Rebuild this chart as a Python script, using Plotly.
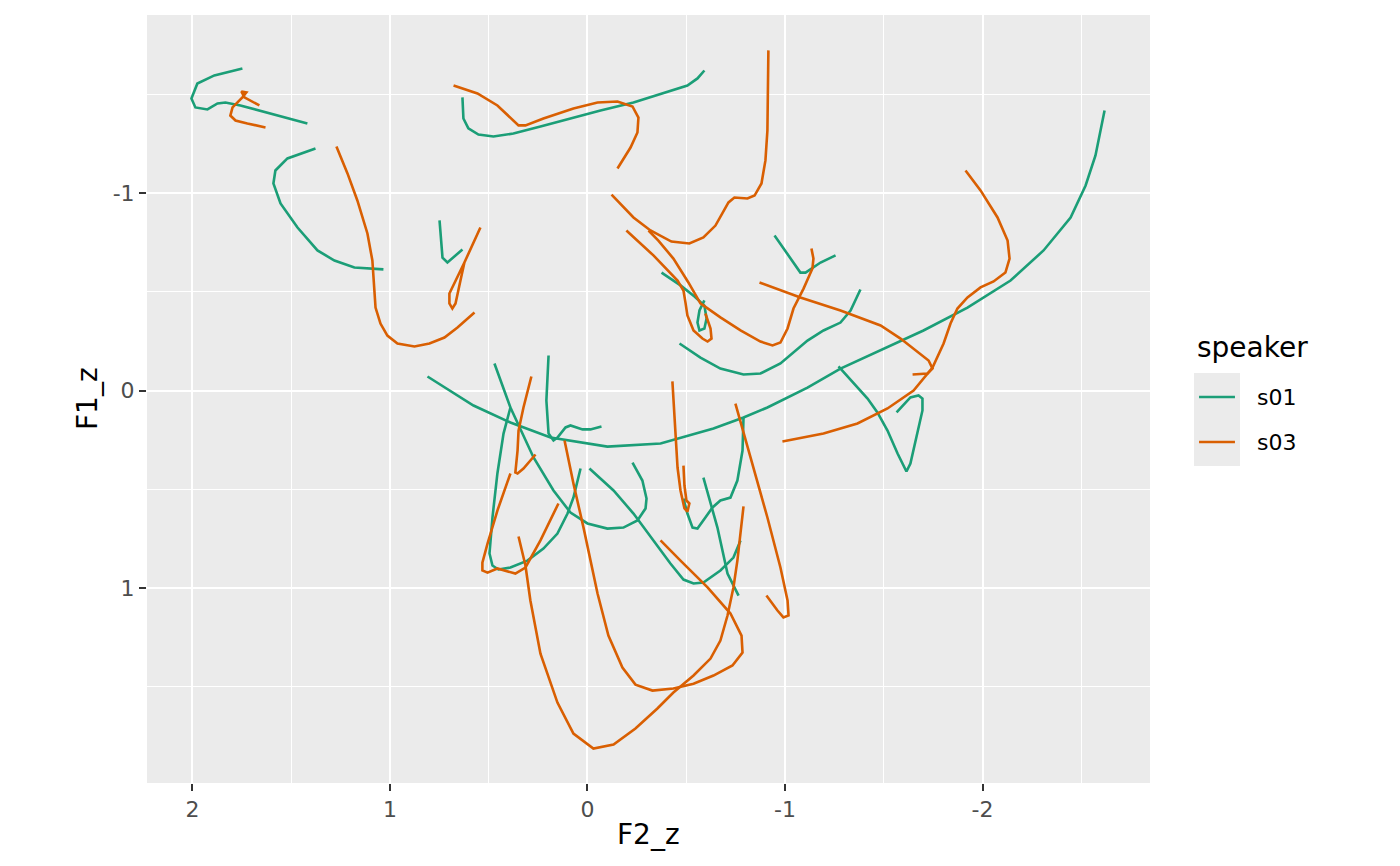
import plotly.graph_objects as go

# ---- data: F2_z / F1_z trajectories per speaker ----
speakers = ["s01", "s03"]
colors = {"s01": "#1B9E77", "s03": "#D95F02"}

s01_f2 = [
    [1.747, 1.889, 1.975, 2.005, 1.985, 1.924, 1.873, 1.833, 1.757, 1.418],
    [1.377, 1.519, 1.580, 1.590, 1.554, 1.468, 1.367, 1.281, 1.180, 1.033],
    [0.749, 0.739, 0.734, 0.709, 0.633],
    [0.633, 0.628, 0.603, 0.552, 0.476, 0.375, 0.238, -0.066, -0.233, -0.435, -0.506, -0.557, -0.592],
    [-0.947, -1.043, -1.078, -1.104, -1.180, -1.256],
    [-0.466, -0.572, -0.673, -0.790, -0.876, -0.977, -1.114, -1.195, -1.281, -1.332, -1.382],
    [0.810, 0.577, 0.390, 0.187, -0.101, -0.370, -0.638, -0.790, -0.911, -1.114, -1.281, -1.484,
     -1.701, -1.924, -2.142, -2.309, -2.446, -2.522, -2.572, -2.618],
    [-1.271, -1.347, -1.418, -1.468, -1.519, -1.570, -1.615, -1.635, -1.671, -1.696, -1.696, -1.676, -1.635, -1.565],
    [-0.375, -0.471, -0.542, -0.592, -0.603, -0.592, -0.567, -0.557, -0.567, -0.592],
    [0.197, 0.208, 0.197, 0.172, 0.152, 0.111, 0.086, 0.025, -0.015, -0.071],
    [0.471, 0.390, 0.273, 0.172, 0.086, 0.0, -0.101, -0.182, -0.253, -0.294, -0.299, -0.278, -0.228],
    [0.035, 0.071, 0.101, 0.152, 0.223, 0.304, 0.390, 0.451, 0.481, 0.496, 0.481, 0.456, 0.425, 0.390],
    [-0.010, -0.132, -0.233, -0.334, -0.420, -0.486, -0.537, -0.587, -0.673, -0.739, -0.775],
    [-0.587, -0.658, -0.709, -0.765],
    [-0.790, -0.785, -0.759, -0.724, -0.673, -0.633, -0.597, -0.557, -0.532, -0.506, -0.486],
]
s01_f1 = [
    [-1.630, -1.595, -1.554, -1.478, -1.433, -1.423, -1.453, -1.458, -1.443, -1.352],
    [-1.225, -1.175, -1.114, -1.048, -0.947, -0.825, -0.709, -0.658, -0.623, -0.613],
    [-0.861, -0.734, -0.673, -0.648, -0.714],
    [-1.484, -1.377, -1.327, -1.296, -1.286, -1.301, -1.337, -1.418, -1.458, -1.519, -1.544, -1.580, -1.620],
    [-0.785, -0.643, -0.597, -0.597, -0.648, -0.684],
    [-0.238, -0.167, -0.111, -0.081, -0.086, -0.137, -0.253, -0.304, -0.344, -0.405, -0.511],
    [-0.071, 0.076, 0.162, 0.238, 0.284, 0.268, 0.192, 0.137, 0.086, -0.015, -0.111, -0.203,
     -0.304, -0.420, -0.557, -0.709, -0.876, -1.038, -1.190, -1.418],
    [-0.122, -0.035, 0.041, 0.111, 0.203, 0.319, 0.410, 0.370, 0.218, 0.101, 0.041, 0.025, 0.035, 0.111],
    [-0.597, -0.532, -0.476, -0.430, -0.365, -0.314, -0.304, -0.344, -0.405, -0.456],
    [-0.177, 0.051, 0.218, 0.253, 0.238, 0.187, 0.177, 0.197, 0.197, 0.182],
    [-0.137, 0.086, 0.339, 0.506, 0.618, 0.673, 0.699, 0.694, 0.658, 0.597, 0.547, 0.456, 0.365],
    [0.395, 0.542, 0.623, 0.724, 0.800, 0.861, 0.896, 0.906, 0.886, 0.825, 0.643, 0.420, 0.218, 0.086],
    [0.395, 0.506, 0.623, 0.759, 0.876, 0.957, 0.977, 0.972, 0.911, 0.846, 0.759],
    [0.441, 0.694, 0.927, 1.038],
    [0.137, 0.304, 0.456, 0.542, 0.557, 0.592, 0.643, 0.699, 0.694, 0.623, 0.547],
]

s03_f2 = [
    [1.661, 1.737, 1.752, 1.727, 1.747, 1.797, 1.808, 1.782, 1.722, 1.630],
    [1.271, 1.215, 1.165, 1.114, 1.089, 1.078, 1.073, 1.048, 1.013, 0.962, 0.876, 0.800, 0.724, 0.658, 0.572],
    [0.542, 0.582, 0.623, 0.699, 0.699, 0.684, 0.668, 0.643, 0.623],
    [0.678, 0.557, 0.456, 0.400, 0.349, 0.314, 0.223, 0.071, -0.051, -0.152, -0.228, -0.258, -0.253, -0.218, -0.152],
    [-0.122, -0.233, -0.319, -0.425, -0.516, -0.587, -0.648, -0.714, -0.744, -0.810, -0.846, -0.881, -0.901, -0.911, -0.916],
    [-0.197, -0.334, -0.456, -0.486, -0.496, -0.506, -0.537, -0.582, -0.608, -0.628, -0.623, -0.597],
    [-0.309, -0.359, -0.435, -0.511, -0.572, -0.673, -0.775, -0.876, -0.937, -0.977, -1.013, -1.043,
     -1.094, -1.139, -1.144, -1.134],
    [-0.871, -1.078, -1.281, -1.484, -1.585, -1.686, -1.727, -1.747, -1.722, -1.646],
    [-1.914, -1.990, -2.076, -2.127, -2.137, -2.116, -2.056, -1.990, -1.924, -1.873, -1.838, -1.803,
     -1.747, -1.651, -1.519, -1.367, -1.195, -0.987],
    [-0.749, -0.825, -0.911, -0.977, -1.013, -1.018, -0.992, -0.962, -0.906],
    [-0.430, -0.441, -0.456, -0.471, -0.491, -0.506, -0.516, -0.501, -0.491, -0.486],
    [0.284, 0.324, 0.349, 0.354, 0.365, 0.354, 0.324, 0.263],
    [0.390, 0.456, 0.506, 0.532, 0.532, 0.506, 0.456, 0.415, 0.365, 0.314, 0.238, 0.147],
    [0.349, 0.314, 0.289, 0.238, 0.152, 0.071, -0.030, -0.132, -0.243, -0.354, -0.435, -0.537,
     -0.623, -0.673, -0.709, -0.739, -0.759, -0.790],
    [0.116, 0.071, 0.020, -0.015, -0.051, -0.106, -0.177, -0.243, -0.329, -0.435, -0.537, -0.638,
     -0.734, -0.785, -0.780, -0.724, -0.608, -0.471, -0.370],
]
s03_f1 = [
    [-1.443, -1.484, -1.514, -1.509, -1.484, -1.433, -1.392, -1.367, -1.352, -1.332],
    [-1.235, -1.099, -0.962, -0.795, -0.658, -0.522, -0.420, -0.339, -0.278, -0.238, -0.223, -0.238, -0.268, -0.319, -0.395],
    [-0.825, -0.734, -0.648, -0.491, -0.441, -0.415, -0.441, -0.557, -0.648],
    [-1.544, -1.504, -1.443, -1.392, -1.342, -1.342, -1.377, -1.428, -1.458, -1.463, -1.438, -1.382, -1.306, -1.230, -1.124],
    [-0.992, -0.876, -0.810, -0.754, -0.744, -0.775, -0.835, -0.952, -0.977, -0.972, -0.987, -1.048, -1.165, -1.316, -1.722],
    [-0.810, -0.684, -0.557, -0.506, -0.446, -0.380, -0.304, -0.263, -0.248, -0.263, -0.314, -0.390],
    [-0.810, -0.759, -0.668, -0.547, -0.441, -0.370, -0.304, -0.248, -0.228, -0.243, -0.314, -0.415,
     -0.516, -0.618, -0.668, -0.719],
    [-0.547, -0.471, -0.405, -0.329, -0.263, -0.187, -0.152, -0.111, -0.086, -0.081],
    [-1.114, -1.013, -0.876, -0.759, -0.668, -0.597, -0.552, -0.522, -0.471, -0.415, -0.339, -0.238,
     -0.116, 0.0, 0.091, 0.167, 0.218, 0.258],
    [0.066, 0.339, 0.643, 0.896, 1.063, 1.139, 1.149, 1.114, 1.038],
    [-0.046, 0.167, 0.390, 0.506, 0.597, 0.613, 0.572, 0.557, 0.481, 0.380],
    [-0.071, 0.086, 0.203, 0.304, 0.415, 0.420, 0.395, 0.324],
    [0.420, 0.608, 0.775, 0.871, 0.911, 0.922, 0.901, 0.911, 0.927, 0.896, 0.759, 0.572],
    [0.739, 0.886, 1.063, 1.332, 1.580, 1.737, 1.813, 1.792, 1.711, 1.610, 1.529, 1.443,
     1.357, 1.266, 1.139, 0.997, 0.861, 0.587],
    [0.253, 0.471, 0.694, 0.861, 1.028, 1.241, 1.403, 1.489, 1.519, 1.509, 1.484, 1.443,
     1.392, 1.327, 1.241, 1.129, 0.997, 0.861, 0.759],
]

x_ticks = [2, 1, 0, -1, -2]
x_ticklabels = ["2", "1", "0", "-1", "-2"]
x_minor = [1.5, 0.5, -0.5, -1.5, -2.5]
y_ticks = [-1, 0, 1]
y_ticklabels = ["-1", "0", "1"]
y_minor = [-1.5, -0.5, 0.5, 1.5]

FONT = "DejaVu Sans"

def joined(trajs):
    out = []
    for t in trajs:
        out.extend(t)
        out.append(None)
    return out

fig = go.Figure()
series = {"s01": (s01_f2, s01_f1), "s03": (s03_f2, s03_f1)}
for sp in speakers:
    f2, f1 = series[sp]
    fig.add_trace(go.Scatter(
        x=joined(f2), y=joined(f1), mode="lines", name=sp,
        line=dict(color=colors[sp], width=2.6), connectgaps=False,
        showlegend=False, hoverinfo="skip",
    ))

axis_common = dict(
    showgrid=True, gridcolor="white", gridwidth=2.2, zeroline=False, showline=False,
    ticks="outside", ticklen=7, tickwidth=2.2, tickcolor="#333333",
    tickfont=dict(family=FONT, size=22, color="#4D4D4D"),
)

fig.update_layout(
    width=1400, height=866,
    margin=dict(l=147, r=250, t=15, b=83),
    paper_bgcolor="white", plot_bgcolor="#EBEBEB",
    font=dict(family=FONT),
    xaxis=dict(range=[2.230, -2.848], tickvals=x_ticks, ticktext=x_ticklabels,
               minor=dict(tickvals=x_minor, showgrid=True, gridcolor="white", gridwidth=1.1, ticks=""),
               **axis_common),
    yaxis=dict(range=[1.987, -1.901], tickvals=y_ticks, ticktext=y_ticklabels,
               minor=dict(tickvals=y_minor, showgrid=True, gridcolor="white", gridwidth=1.1, ticks=""),
               **axis_common),
    showlegend=False,
)

# axis titles
fig.add_annotation(text="F2_z", xref="paper", yref="paper", x=0.5, y=-0.0677,
                   xanchor="center", yanchor="middle", showarrow=False,
                   font=dict(family=FONT, size=28, color="black"))
fig.add_annotation(text="F1_z", xref="paper", yref="paper", x=-0.0598, y=0.5,
                   xanchor="center", yanchor="middle", textangle=-90, showarrow=False,
                   font=dict(family=FONT, size=28, color="black"))

# legend (ggplot style: grey key boxes)
fig.add_annotation(text="speaker", xref="paper", yref="paper", x=1.0449, y=0.5677,
                   xanchor="left", yanchor="middle", showarrow=False,
                   font=dict(family=FONT, size=28, color="black"))
fig.add_shape(type="rect", xref="paper", yref="paper", x0=1.0439, x1=1.0897, y0=0.4128, y1=0.5339,
              fillcolor="#EBEBEB", line=dict(width=0), layer="below")
key_y = {"s01": 0.5026, "s03": 0.4440}
for sp in speakers:
    fig.add_shape(type="line", xref="paper", yref="paper", x0=1.0489, x1=1.0847,
                  y0=key_y[sp], y1=key_y[sp], line=dict(color=colors[sp], width=2.6))
    fig.add_annotation(text=sp, xref="paper", yref="paper", x=1.1047, y=key_y[sp],
                       xanchor="left", yanchor="middle", showarrow=False,
                       font=dict(family=FONT, size=22, color="black"))

fig.write_html("out.html", config={"displayModeBar": False},
               post_script="document.body.style.margin='0px';")
